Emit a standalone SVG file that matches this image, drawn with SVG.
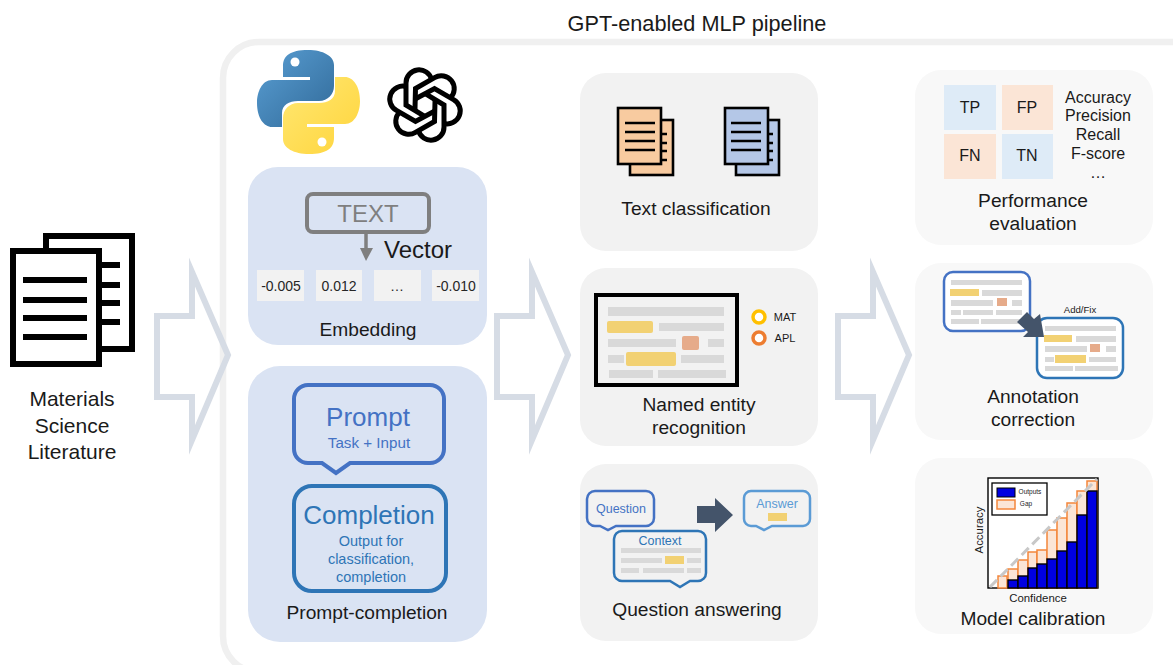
<svg xmlns="http://www.w3.org/2000/svg" width="1173" height="665" viewBox="0 0 1173 665">
<style>
text{font-family:"Liberation Sans",Arial,sans-serif;fill:#1a1a1a;text-anchor:middle}
.panel{fill:#f2f2f2}.blue{fill:#dae3f3}.light{fill:#f8f8f8}
.big{font-size:19.2px}
.lit{font-size:21px}
.arrow{fill:none;stroke:#d6dce5;stroke-width:6;stroke-miterlimit:10}
.bar{fill:#d9d9d9}.y{fill:#f2d173}.o{fill:#e6ab8a}
.val{fill:#f2f2f2}
.cell{font-size:14px;fill:#262626}
.doc{fill:#fff;stroke:#000;stroke-width:6}
.ln{stroke:#000;stroke-width:6}
.ln2{stroke:#000;stroke-width:2.6}
.pg{stroke:#000;stroke-width:2.6}
.org{fill:#f8cba0}.blu{fill:#b4c7e7}
.gap{fill:#fbe5d6;stroke:#f4863b;stroke-width:1.5}
.out{fill:#0000e0;stroke:#000;stroke-width:1.4}
.metric{font-size:16px}
.cm{font-size:16px}
.c1{fill:#4472c4}.c2{fill:#2e75b6}.c3{fill:#5b9bd5}
</style>
<defs>
<linearGradient id="py1" x1="0" y1="0" x2="1" y2="1"><stop offset="0" stop-color="#5a9fd4"/><stop offset="1" stop-color="#306998"/></linearGradient>
<linearGradient id="py2" x1="0" y1="0" x2="1" y2="1"><stop offset="0" stop-color="#ffe873"/><stop offset="1" stop-color="#ffd43b"/></linearGradient>
<path id="strand" d="M-0.7 11.2L-19 0V-22A13 13 0 0 1 6.6 -25.4" fill="none" stroke="#000" stroke-width="5"/>
<path id="block" d="M157 316H192V272L228 355L192 440V397H157Z" class="arrow"/>
</defs>
<rect width="1173" height="665" fill="#fff"/>

<g id="pipeline">
<rect x="223" y="42" width="1010" height="630" rx="36" fill="#fff" stroke="#f0f0f0" stroke-width="6.5"/>
<text x="697" y="31" font-size="21.7">GPT-enabled MLP pipeline</text>
</g>

<g id="connectors">
<use href="#block"/>
<use href="#block" x="340"/>
<use href="#block" x="681"/>
</g>

<g id="literature">
<path d="M46 236H132V349H46Z" fill="#fff" stroke="#000" stroke-width="6"/>
<path class="ln" d="M100 265H120M100 285H120M100 303H120M100 322H120"/>
<path class="doc" d="M13 251H99V364H13Z"/>
<path class="ln" d="M23 280H87M23 300H87M23 318H87M23 337H87"/>
<text class="lit" x="72" y="406">Materials</text>
<text class="lit" x="72" y="433">Science</text>
<text class="lit" x="72" y="459">Literature</text>
</g>

<g id="logos">
<path fill="url(#py1)" d="M308 50C290 50 283 56 283 66V77H310V80H272C262 80 257 92 257 103C257 118 264 127 272 127H282V113C282 105 289 101 298 101H319C328 101 334 94 334 86V65C334 56 323 50 308 50Z"/>
<circle cx="295" cy="62" r="4.5" fill="#fff"/>
<path fill="url(#py2)" d="M309 154C327 154 334 148 334 138V127H307V124H345C355 124 360 112 360 101C360 86 353 77 345 77H335V91C335 99 328 103 319 103H298C289 103 283 110 283 118V139C283 148 294 154 309 154Z"/>
<circle cx="322" cy="142" r="4.5" fill="#fff"/>
<g transform="translate(425 105)">
<use href="#strand"/>
<use href="#strand" transform="rotate(60)"/>
<use href="#strand" transform="rotate(120)"/>
<use href="#strand" transform="rotate(180)"/>
<use href="#strand" transform="rotate(240)"/>
<use href="#strand" transform="rotate(300)"/>
</g>
</g>

<g id="embedding">
<rect class="blue" x="248" y="167" width="239" height="178" rx="30"/>
<rect x="307" y="194" width="122" height="38" rx="6" fill="none" stroke="#7f7f7f" stroke-width="4"/>
<text x="368" y="222" font-size="24" style="fill:#7f7f7f">TEXT</text>
<path d="M366 232V250" stroke="#7f7f7f" stroke-width="3.5"/>
<path d="M360 248H373L366 261Z" fill="#7f7f7f"/>
<text x="418" y="258" font-size="24">Vector</text>
<rect class="val" x="257" y="270" width="47" height="31"/><text class="cell" x="281" y="291">-0.005</text>
<rect class="val" x="316" y="270" width="46" height="31"/><text class="cell" x="339" y="291">0.012</text>
<rect class="val" x="374" y="270" width="47" height="31"/><text class="cell" x="397" y="291">…</text>
<rect class="val" x="432" y="270" width="47" height="31"/><text class="cell" x="456" y="291">-0.010</text>
<text class="big" x="368" y="336">Embedding</text>
</g>

<g id="prompt-completion">
<rect class="blue" x="248" y="366" width="239" height="276" rx="32"/>
<path d="M308 385H430A14 14 0 0 1 444 399V449A14 14 0 0 1 430 463H350L336 473L322 463H308A14 14 0 0 1 294 449V399A14 14 0 0 1 308 385Z" fill="none" stroke="#4472c4" stroke-width="4"/>
<text class="c1" x="368" y="426" font-size="26">Prompt</text>
<text class="c1" x="369" y="448" font-size="15.2">Task + Input</text>
<rect x="294" y="486" width="152" height="105" rx="18" fill="none" stroke="#2e75b6" stroke-width="4"/>
<text class="c2" x="369" y="524" font-size="26">Completion</text>
<text class="c2" x="371" y="546" font-size="14.5">Output for</text>
<text class="c2" x="371" y="564" font-size="14.5">classification,</text>
<text class="c2" x="371" y="582" font-size="14.5">completion</text>
<text class="big" x="367" y="619">Prompt-completion</text>
</g>

<g id="text-classification">
<rect class="panel" x="580" y="73" width="238" height="178" rx="26"/>
<rect class="org pg" x="630" y="120" width="43" height="55"/>
<path class="ln2" d="M661 134H667M661 143H667M661 151H667M661 160H667"/>
<rect class="org pg" x="618" y="108" width="43" height="56"/>
<path class="ln2" d="M625 123H655M625 132H655M625 141H655M625 150H655"/>
<rect class="blu pg" x="736" y="120" width="43" height="55"/>
<path class="ln2" d="M768 134H773M768 143H773M768 151H773M768 160H773"/>
<rect class="blu pg" x="725" y="108" width="43" height="56"/>
<path class="ln2" d="M731 123H761M731 132H761M731 141H761M731 150H761"/>
<text class="big" x="696" y="215">Text classification</text>
</g>

<g id="ner">
<rect class="panel" x="580" y="268" width="238" height="178" rx="26"/>
<rect x="596" y="295" width="141" height="90" fill="#f2f2f2" stroke="#000" stroke-width="4"/>
<rect class="bar" x="608" y="307" width="116" height="9"/>
<rect class="y" x="607" y="321" width="46" height="12" rx="2"/><rect class="bar" x="659" y="323" width="65" height="8"/>
<rect class="bar" x="608" y="339" width="68" height="8"/><rect class="o" x="682" y="336" width="17" height="14" rx="2"/><rect class="bar" x="708" y="339" width="16" height="8"/>
<rect class="bar" x="608" y="355" width="16" height="8"/><rect class="y" x="626" y="352" width="50" height="14" rx="2"/><rect class="bar" x="681" y="355" width="43" height="8"/>
<rect class="bar" x="609" y="370" width="44" height="8"/><rect class="bar" x="658" y="370" width="68" height="8"/>
<circle cx="759" cy="317" r="6" fill="#fff" stroke="#ffc000" stroke-width="3.5"/>
<circle cx="759" cy="338" r="6" fill="#fff" stroke="#ed7d31" stroke-width="3.5"/>
<text x="785" y="321" font-size="11">MAT</text>
<text x="785" y="342" font-size="11">APL</text>
<text class="big" x="699" y="411">Named entity</text>
<text class="big" x="699" y="434">recognition</text>
</g>

<g id="qa">
<rect class="panel" x="580" y="464" width="238" height="177" rx="26"/>
<path d="M595 491H646A8 8 0 0 1 654 499V518A8 8 0 0 1 646 526H616L608 530L600 526H595A8 8 0 0 1 587 518V499A8 8 0 0 1 595 491Z" fill="#f2f2f2" stroke="#4472c4" stroke-width="2.5"/>
<text class="c1" x="621" y="513" font-size="12.5">Question</text>
<path d="M622 531H698A8 8 0 0 1 706 539V573A8 8 0 0 1 698 581H690L680 587L670 581H622A8 8 0 0 1 614 573V539A8 8 0 0 1 622 531Z" fill="#f2f2f2" stroke="#2e75b6" stroke-width="2.5"/>
<text class="c2" x="660" y="545" font-size="12.5">Context</text>
<rect class="bar" x="621" y="548" width="80" height="5"/>
<rect class="bar" x="621" y="558" width="41" height="5"/><rect class="y" x="665" y="556" width="19" height="8"/><rect class="bar" x="687" y="558" width="14" height="5"/>
<rect class="bar" x="621" y="568" width="18" height="5"/><rect class="bar" x="643" y="568" width="41" height="5"/><rect class="bar" x="687" y="568" width="14" height="5"/>
<path d="M697 506H715V498L733 515L715 532V523H697Z" fill="#44546a"/>
<path d="M751 491H803A7 7 0 0 1 810 498V519A7 7 0 0 1 803 526H772L764 530L756 526H751A7 7 0 0 1 744 519V498A7 7 0 0 1 751 491Z" fill="#f2f2f2" stroke="#5b9bd5" stroke-width="2.5"/>
<text class="c3" x="777" y="508" font-size="12.5">Answer</text>
<rect class="y" x="768" y="513" width="19" height="8"/>
<text class="big" x="697" y="616">Question answering</text>
</g>

<g id="performance">
<rect class="light" x="915" y="70" width="238" height="175" rx="26"/>
<rect x="944" y="85" width="52" height="45" fill="#deebf7"/><text class="cm" x="970" y="113">TP</text>
<rect x="1002" y="85" width="51" height="45" fill="#fbe5d6"/><text class="cm" x="1027" y="113">FP</text>
<rect x="944" y="134" width="52" height="45" fill="#fbe5d6"/><text class="cm" x="970" y="161">FN</text>
<rect x="1002" y="134" width="51" height="45" fill="#deebf7"/><text class="cm" x="1027" y="161">TN</text>
<text class="metric" x="1098" y="103">Accuracy</text>
<text class="metric" x="1098" y="121">Precision</text>
<text class="metric" x="1098" y="140">Recall</text>
<text class="metric" x="1098" y="159">F-score</text>
<text class="metric" x="1098" y="178">…</text>
<text class="big" x="1033" y="207">Performance</text>
<text class="big" x="1033" y="230">evaluation</text>
</g>

<g id="annotation">
<rect class="light" x="915" y="263" width="238" height="177" rx="26"/>
<rect x="944" y="272" width="86" height="59" rx="9" fill="#fff" stroke="#4472c4" stroke-width="2.5"/>
<rect class="bar" x="951" y="280" width="71" height="5"/>
<rect class="y" x="950" y="289" width="29" height="7"/><rect class="bar" x="982" y="290" width="40" height="6"/>
<rect class="bar" x="951" y="300" width="42" height="6"/><rect class="o" x="997" y="298" width="10" height="8"/><rect class="bar" x="1012" y="300" width="10" height="6"/>
<rect class="bar" x="951" y="310" width="10" height="5"/><rect class="bar" x="963" y="310" width="30" height="5"/><rect class="bar" x="996" y="310" width="26" height="5"/>
<rect class="bar" x="951" y="319" width="28" height="5"/><rect class="bar" x="981" y="319" width="41" height="5"/>
<rect x="1037" y="318" width="86" height="60" rx="10" fill="#fff" stroke="#2e75b6" stroke-width="2.5"/>
<rect class="bar" x="1045" y="326" width="71" height="5"/>
<rect class="y" x="1044" y="335" width="28" height="7"/><rect class="bar" x="1076" y="336" width="40" height="6"/>
<rect class="bar" x="1045" y="346" width="42" height="6"/><rect class="o" x="1090" y="344" width="10" height="8"/><rect class="bar" x="1106" y="346" width="10" height="6"/>
<rect class="bar" x="1045" y="357" width="9" height="5"/><rect class="y" x="1055" y="355" width="31" height="8"/><rect class="bar" x="1089" y="357" width="27" height="5"/>
<rect class="bar" x="1045" y="366" width="28" height="5"/><rect class="bar" x="1075" y="366" width="43" height="5"/>
<path d="M1017 322L1027 312L1034 319L1040 314L1044 337L1023 337L1028 332Z" fill="#44546a"/>
<text x="1080" y="313" font-size="9.6">Add/Fix</text>
<text class="big" x="1033" y="403">Annotation</text>
<text class="big" x="1033" y="426">correction</text>
</g>

<g id="calibration">
<rect class="light" x="915" y="458" width="238" height="176" rx="26"/>
<rect x="988" y="478" width="110" height="110" fill="#fff" stroke="#000" stroke-width="1.4"/>
<rect class="gap" x="998" y="576" width="9" height="12"/>
<rect class="gap" x="1008" y="569" width="10" height="19"/><rect class="gap" x="1018" y="560" width="10" height="28"/>
<rect class="gap" x="1028" y="552" width="9" height="36"/><rect class="gap" x="1037" y="550" width="10" height="38"/>
<rect class="gap" x="1047" y="530" width="10" height="58"/><rect class="gap" x="1057" y="518" width="10" height="70"/>
<rect class="gap" x="1067" y="503" width="10" height="85"/><rect class="gap" x="1077" y="491" width="10" height="97"/>
<rect class="gap" x="1087" y="481" width="10" height="107"/>
<rect class="out" x="1008" y="580" width="10" height="8"/><rect class="out" x="1018" y="576" width="10" height="12"/>
<rect class="out" x="1028" y="568" width="9" height="20"/><rect class="out" x="1037" y="564" width="10" height="24"/>
<rect class="out" x="1047" y="559" width="10" height="29"/><rect class="out" x="1057" y="551" width="10" height="37"/>
<rect class="out" x="1067" y="542" width="10" height="46"/><rect class="out" x="1077" y="515" width="10" height="73"/>
<rect class="out" x="1087" y="491" width="10" height="97"/>
<path d="M990 587L1097 479" stroke="#c8c8c8" stroke-width="3" stroke-dasharray="10 5" fill="none"/>
<rect x="992" y="483" width="55" height="32" fill="#fff" stroke="#000" stroke-width="1.3"/>
<rect x="997" y="488" width="18" height="9" fill="#0000e0" stroke="#000" stroke-width="1"/>
<rect class="gap" x="997" y="500" width="18" height="9"/>
<text x="1030" y="494" font-size="6.5">Outputs</text>
<text x="1026" y="506" font-size="6.5">Gap</text>
<text x="1038" y="602" font-size="11.4">Confidence</text>
<text x="983" y="530" font-size="11.4" transform="rotate(-90 983 530)">Accuracy</text>
<text class="big" x="1033" y="625">Model calibration</text>
</g>
</svg>
